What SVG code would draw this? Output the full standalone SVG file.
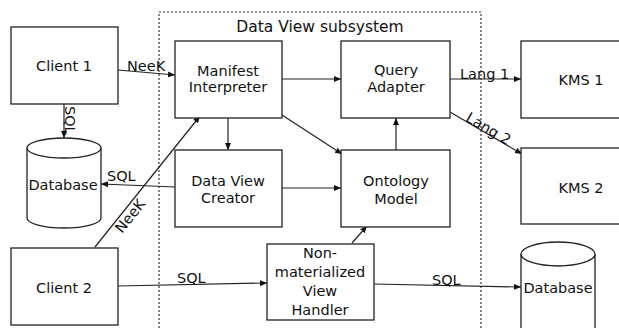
<svg xmlns="http://www.w3.org/2000/svg" width="619" height="328" viewBox="0 0 619 328">
  <defs>
    <marker id="arrow" markerUnits="userSpaceOnUse" markerWidth="8" markerHeight="7" refX="7" refY="3" orient="auto">
      <path d="M0,0 L7,3 L0,6 z" fill="#111"/>
    </marker>
    <style>
      .box { fill: #fff; stroke: #222; stroke-width: 1.3; }
      .db { fill: #fff; stroke: #222; stroke-width: 1.3; }
      .edge { fill: none; stroke: #222; stroke-width: 1.2; marker-end: url(#arrow); }
      text { font-family: "DejaVu Sans", "Liberation Sans", sans-serif; font-size: 14.5px; fill: #111; }
      .c { text-anchor: middle; }
    </style>
  </defs>
  <rect width="619" height="328" fill="#fff"/>

  <!-- subsystem boundary -->
  <g id="subsystem">
    <path d="M159,340 V12 H481 V340" fill="none" stroke="#333" stroke-width="1.2" stroke-dasharray="2,2"/>
    <text class="c" x="320" y="32" style="font-size:15.5px">Data View subsystem</text>
  </g>

  <!-- connectors -->
  <g id="connectors">
    <line class="edge" x1="118" y1="70" x2="175" y2="75"/>
    <text x="127" y="71">NeeK</text>
    <line class="edge" x1="64" y1="104" x2="64" y2="138"/>
    <text transform="translate(65,106) rotate(90)">SQL</text>
    <line class="edge" x1="282" y1="79" x2="341" y2="79"/>
    <line class="edge" x1="228" y1="118" x2="228" y2="150"/>
    <line class="edge" x1="282" y1="115" x2="342" y2="154"/>
    <line class="edge" x1="396" y1="150" x2="396" y2="118"/>
    <line class="edge" x1="450" y1="79" x2="521" y2="79"/>
    <text x="460" y="79">Lang 1</text>
    <line class="edge" x1="450" y1="112" x2="522" y2="154"/>
    <text class="c" transform="translate(486,133) rotate(30.3)">Lang 2</text>
    <line class="edge" x1="175" y1="187" x2="101" y2="184"/>
    <text x="107" y="181">SQL</text>
    <line class="edge" x1="282" y1="188" x2="341" y2="188"/>
    <line class="edge" x1="95" y1="247" x2="200" y2="116"/>
    <text class="c" transform="translate(134,219) rotate(-51.5)">NeeK</text>
    <line class="edge" x1="118" y1="286" x2="267" y2="283"/>
    <text x="177" y="283">SQL</text>
    <line class="edge" x1="352" y1="243" x2="367" y2="226"/>
    <line class="edge" x1="374" y1="284" x2="521" y2="287"/>
    <text x="432" y="285">SQL</text>
  </g>

  <!-- nodes -->
  <g id="client1">
    <rect class="box" x="11" y="27" width="107" height="77"/>
    <text class="c" x="64" y="71">Client 1</text>
  </g>
  <g id="client2">
    <rect class="box" x="11" y="248" width="107" height="77"/>
    <text class="c" x="64" y="293">Client 2</text>
  </g>
  <g id="manifest-interpreter">
    <rect class="box" x="175" y="41" width="107" height="77"/>
    <text class="c" x="228" y="75.5">Manifest</text>
    <text class="c" x="228" y="92">Interpreter</text>
  </g>
  <g id="query-adapter">
    <rect class="box" x="341" y="41" width="109" height="77"/>
    <text class="c" x="396" y="75">Query</text>
    <text class="c" x="396" y="92">Adapter</text>
  </g>
  <g id="kms1">
    <rect class="box" x="521" y="41" width="130" height="77"/>
    <text class="c" x="581" y="85">KMS 1</text>
  </g>
  <g id="kms2">
    <rect class="box" x="521" y="148" width="130" height="76"/>
    <text class="c" x="581" y="193">KMS 2</text>
  </g>
  <g id="data-view-creator">
    <rect class="box" x="175" y="150" width="107" height="77"/>
    <text class="c" x="228" y="186">Data View</text>
    <text class="c" x="228" y="203">Creator</text>
  </g>
  <g id="ontology-model">
    <rect class="box" x="341" y="150" width="109" height="77"/>
    <text class="c" x="396" y="186">Ontology</text>
    <text class="c" x="396" y="204">Model</text>
  </g>
  <g id="view-handler">
    <rect class="box" x="267" y="244" width="107" height="76"/>
    <text class="c" x="320" y="258">Non-</text>
    <text class="c" x="320" y="277">materialized</text>
    <text class="c" x="320" y="296">View</text>
    <text class="c" x="320" y="315">Handler</text>
  </g>
  <g id="database1">
    <path class="db" d="M27,148 V218 A37,10 0 0 0 101,218 V148"/>
    <ellipse class="db" cx="64" cy="148" rx="37" ry="10"/>
    <text class="c" x="63" y="190">Database</text>
  </g>
  <g id="database2">
    <path class="db" d="M521,254 V330 A37,12 0 0 0 595,330 V254"/>
    <ellipse class="db" cx="558" cy="254" rx="37" ry="12"/>
    <text class="c" x="558" y="293">Database</text>
  </g>
</svg>
